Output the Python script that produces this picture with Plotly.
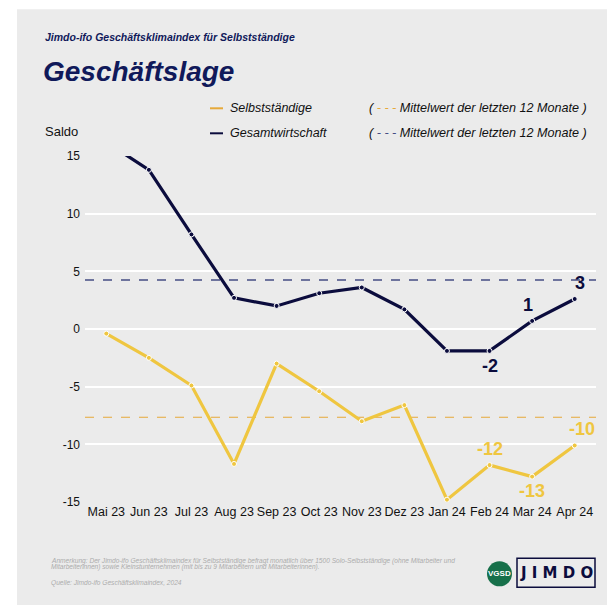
import plotly.graph_objects as go

months = ["Mai 23", "Jun 23", "Jul 23", "Aug 23", "Sep 23", "Oct 23", "Nov 23",
          "Dez 23", "Jan 24", "Feb 24", "Mar 24", "Apr 24"]
selbst = [-0.4, -2.5, -4.9, -11.7, -3.0, -5.4, -8.0, -6.6, -14.8, -11.8, -12.8, -10.1]
gesamt = [16.2, 13.8, 8.2, 2.7, 2.0, 3.1, 3.6, 1.7, -1.9, -1.9, 0.7, 2.6]
selbst_mean = -7.65
gesamt_mean = 4.25
y_ticks = [-15, -10, -5, 0, 5, 10, 15]
y_ticktext = ["-15", "-10", "-5", "0", "5", "10", "15"]

# label styles: (month index, pixel shift x, pixel shift y)
selbst_labels = [(9, 0, 16), (10, 0, -14), (11, 7, 16)]
gesamt_labels = [(9, 0, -15), (10, -4, 16), (11, 5, 16)]

C_SELBST = "#efc640"
C_SELBST_MEAN = "#e6a93a"
C_GESAMT = "#0b0c3d"
C_GESAMT_MEAN = "#454d84"
BG = "#ebebeb"
FONT = "Liberation Sans"

OFF = 8  # page body margin
W, H = 615 - OFF, 605 - OFF
# plot area in page pixels
PX0, PX1, PY0, PY1 = 85, 596, 155.7, 501.7
L = PX0 - OFF
R = W - (PX1 - OFF)
T = PY0 - OFF
B = H - (PY1 - OFF)
PW, PH = PX1 - PX0, PY1 - PY0


def px(x):
    return (x - PX0) / PW


def py(y):
    return (PY1 - y) / PH


fig = go.Figure()

fig.add_trace(go.Scatter(x=months, y=selbst, mode="lines+markers", name="Selbstständige",
                         line=dict(color=C_SELBST, width=3.2),
                         marker=dict(size=5, color=C_SELBST, line=dict(color="white", width=1)),
                         showlegend=False))
fig.add_trace(go.Scatter(x=months, y=gesamt, mode="lines+markers", name="Gesamtwirtschaft",
                         line=dict(color=C_GESAMT, width=3.2),
                         marker=dict(size=5, color=C_GESAMT, line=dict(color="white", width=1)),
                         showlegend=False))

shapes = []
# gray panel
shapes.append(dict(type="rect", xref="paper", yref="paper", x0=px(17), x1=px(640),
                   y0=py(640), y1=py(9), fillcolor=BG, line=dict(width=0), layer="below"))
# zero line dashed white
shapes.append(dict(type="line", xref="paper", yref="y", x0=0, x1=1, y0=0, y1=0,
                   line=dict(color="white", width=2.2, dash="dash"), layer="below"))
# mean lines spanning full width
shapes.append(dict(type="line", xref="paper", yref="y", x0=0, x1=1, y0=gesamt_mean, y1=gesamt_mean,
                   line=dict(color=C_GESAMT_MEAN, width=1.6, dash="dash"), layer="below"))
shapes.append(dict(type="line", xref="paper", yref="y", x0=0, x1=1, y0=selbst_mean, y1=selbst_mean,
                   line=dict(color=C_SELBST_MEAN, width=1.1, dash="dash"), layer="below"))

annotations = []
for i, dx, dy in selbst_labels:
    annotations.append(dict(x=months[i], y=selbst[i], xref="x", yref="y",
                            text="<b>%d</b>" % round(selbst[i]), showarrow=False,
                            xshift=dx, yshift=dy, font=dict(family=FONT, size=18, color=C_SELBST)))
for i, dx, dy in gesamt_labels:
    annotations.append(dict(x=months[i], y=gesamt[i], xref="x", yref="y",
                            text="<b>%d</b>" % round(gesamt[i]), showarrow=False,
                            xshift=dx, yshift=dy, font=dict(family=FONT, size=18, color=C_GESAMT)))

# titles
annotations.append(dict(x=px(43), y=py(37), xref="paper", yref="paper", xanchor="left", yanchor="middle",
                        text="<b><i>Jimdo-ifo Geschäftsklimaindex für Selbstständige</i></b>",
                        showarrow=False, font=dict(family=FONT, size=10.5, color="#10195a")))
annotations.append(dict(x=px(41), y=py(71), xref="paper", yref="paper", xanchor="left", yanchor="middle",
                        text="<b><i>Geschäftslage</i></b>",
                        showarrow=False, font=dict(family=FONT, size=28, color="#10195a")))
annotations.append(dict(x=px(43), y=py(131), xref="paper", yref="paper", xanchor="left", yanchor="middle",
                        text="Saldo", showarrow=False, font=dict(family=FONT, size=13, color="#111")))

# legend
for yy, col, name, mcol in [(108, C_SELBST_MEAN, "Selbstständige", C_SELBST_MEAN),
                            (133, C_GESAMT, "Gesamtwirtschaft", C_GESAMT_MEAN)]:
    shapes.append(dict(type="line", xref="paper", yref="paper", x0=px(210), x1=px(223),
                       y0=py(yy), y1=py(yy), line=dict(color=col, width=2)))
    annotations.append(dict(x=px(228), y=py(yy), xref="paper", yref="paper", xanchor="left",
                            yanchor="middle", text="<i>%s</i>" % name, showarrow=False,
                            font=dict(family=FONT, size=12.5, color="#111")))
    annotations.append(dict(x=px(367), y=py(yy), xref="paper", yref="paper", xanchor="left",
                            yanchor="middle",
                            text="<i>( <span style='color:%s'>- - -</span> Mittelwert der letzten 12 Monate )</i>" % mcol,
                            showarrow=False, font=dict(family=FONT, size=12.6, color="#111")))

# footer
foot = [(561, "Anmerkung: Der Jimdo-ifo Geschäftsklimaindex für Selbstständige befragt monatlich über 1500 Solo-Selbstständige (ohne Mitarbeiter und"),
        (567, "Mitarbeiterinnen) sowie Kleinstunternehmen (mit bis zu 9 Mitarbeitern und Mitarbeiterinnen)."),
        (583, "Quelle: Jimdo-ifo Geschäftsklimaindex, 2024")]
for yy, t in foot:
    annotations.append(dict(x=px(49), y=py(yy), xref="paper", yref="paper", xanchor="left",
                            yanchor="middle", text="<i>%s</i>" % t, showarrow=False,
                            font=dict(family=FONT, size=6.6, color="#ababab")))

# logos
shapes.append(dict(type="circle", xref="paper", yref="paper", x0=px(487), x1=px(512),
                   y0=py(586), y1=py(561), fillcolor="#17704a", line=dict(width=0), layer="below"))
annotations.append(dict(x=px(499.5), y=py(573), xref="paper", yref="paper", text="<b>VGSD</b>",
                        xanchor="center", yanchor="middle",
                        showarrow=False, font=dict(family=FONT, size=8, color="white")))
shapes.append(dict(type="rect", xref="paper", yref="paper", x0=px(517), x1=px(595),
                   y0=py(587), y1=py(558), line=dict(color=C_GESAMT, width=1.5), layer="below"))
annotations.append(dict(x=px(556), y=py(573), xref="paper", yref="paper", text="<b>J I M D O</b>",
                        xanchor="center", yanchor="middle",
                        showarrow=False, font=dict(family="DejaVu Sans", size=15, color=C_GESAMT)))

fig.update_layout(
    width=W, height=H, margin=dict(l=L, r=R, t=T, b=B, autoexpand=False),
    paper_bgcolor="white", plot_bgcolor=BG,
    font=dict(family=FONT, size=12, color="#111"),
    shapes=shapes, annotations=annotations, showlegend=False,
    xaxis=dict(range=[-0.5, len(months) - 0.5], showgrid=False, zeroline=False, showline=False,
               ticks="", tickangle=0, tickfont=dict(size=12.5, color="#111"), fixedrange=True),
    yaxis=dict(range=[-15, 15], tickvals=y_ticks, ticktext=y_ticktext, showgrid=True,
               gridcolor="white", gridwidth=1.8, zeroline=False, showline=False, ticks="",
               ticklabelstandoff=4, tickfont=dict(size=12, color="#111")),
)

fig.write_html("out.html")
